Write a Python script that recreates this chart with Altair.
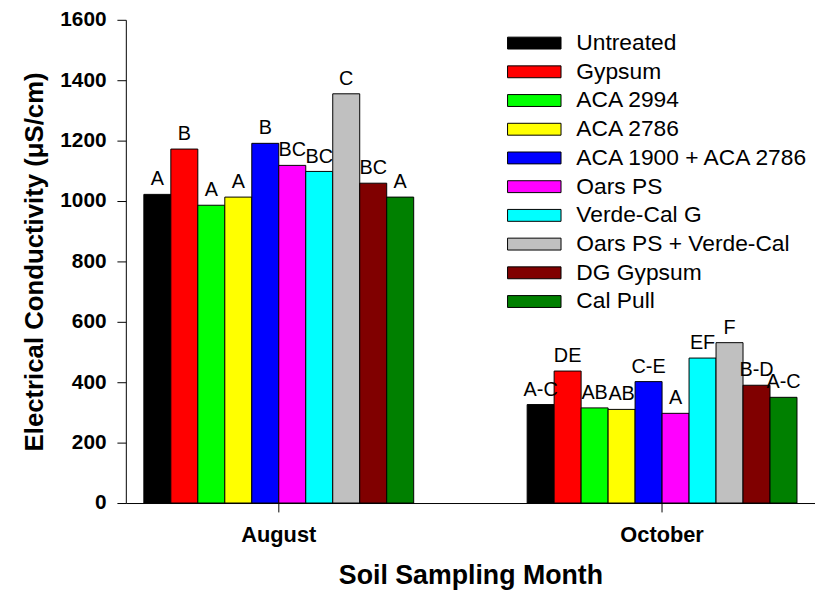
import altair as alt
import pandas as pd

months = ["August", "October"]
treatments = ["Untreated", "Gypsum", "ACA 2994", "ACA 2786", "ACA 1900 + ACA 2786",
              "Oars PS", "Verde-Cal G", "Oars PS + Verde-Cal", "DG Gypsum", "Cal Pull"]
colors = ["#000000", "#FF0000", "#00FF00", "#FFFF00", "#0000FF",
          "#FF00FF", "#00FFFF", "#C0C0C0", "#800000", "#008000"]
august_ec = [1022, 1172, 986, 1013, 1191, 1118, 1098, 1355, 1059, 1013]
october_ec = [326, 437, 315, 310, 402, 297, 480, 531, 390, 350]
august_letters = ["A", "B", "A", "A", "B", "BC", "BC", "C", "BC", "A"]
october_letters = ["A-C", "DE", "AB", "AB", "C-E", "A", "EF", "F", "B-D", "A-C"]

rows = []
for t, v, l in zip(treatments, august_ec, august_letters):
    rows.append({"Month": "August", "Treatment": t, "EC": v, "Letter": l})
for t, v, l in zip(treatments, october_ec, october_letters):
    rows.append({"Month": "October", "Treatment": t, "EC": v, "Letter": l})
df = pd.DataFrame(rows)

FONT = "Liberation Sans"

x_enc = alt.X("Month:N", sort=months,
              scale=alt.Scale(paddingInner=0.296, paddingOuter=0.047),
              axis=alt.Axis(title="Soil Sampling Month", labelAngle=0))
xo_enc = alt.XOffset("Treatment:N", sort=treatments,
                     scale=alt.Scale(paddingInner=0, paddingOuter=0))
y_enc = alt.Y("EC:Q", scale=alt.Scale(domain=[0, 1600], nice=False),
              axis=alt.Axis(title="Electrical Conductivity (μS/cm)", format="d",
                            values=list(range(0, 1601, 200))))

bars = alt.Chart(df).mark_bar(stroke="black", strokeWidth=1).encode(
    x=x_enc, xOffset=xo_enc, y=y_enc,
    color=alt.Color("Treatment:N", sort=treatments,
                    scale=alt.Scale(domain=treatments, range=colors),
                    legend=alt.Legend(
                        title=None, orient="none", legendX=401, legendY=12,
                        symbolType="M-4.5,-1H4.5V1H-4.5Z", symbolSize=144,
                        symbolStrokeColor="black", symbolStrokeWidth=1,
                        labelFont=FONT, labelFontSize=23, labelColor="black",
                        labelOffset=31, rowPadding=5, padding=0,
                        labelLimit=400)),
)

labels = alt.Chart(df).mark_text(baseline="bottom", dy=-5, font=FONT,
                                 fontSize=20, color="black").encode(
    x=x_enc, xOffset=xo_enc, y=y_enc, text="Letter:N")

chart = (bars + labels).properties(
    width=696, height=488,
    autosize=alt.AutoSizeParams(type="none"),
    padding={"left": 119, "top": 9, "right": 0, "bottom": 95},
).configure_view(stroke=None).configure_axis(
    domainColor="black", tickColor="black", grid=False,
    labelFont=FONT, labelFontWeight="bold", labelColor="black",
    titleFont=FONT, titleFontWeight="bold", titleColor="black",
    tickSize=9,
).configure_axisY(
    labelFontSize=21, titleFontSize=26, labelPadding=11, titlePadding=12,
).configure_axisX(
    labelFontSize=22, titleFontSize=27, labelPadding=13, titlePadding=17,
)

chart.save("out.html", embed_options={"renderer": "svg", "actions": False})
